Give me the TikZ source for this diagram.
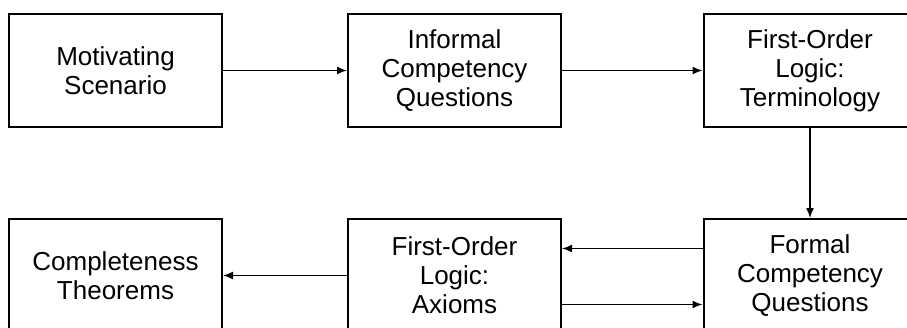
\documentclass[tikz,border=0pt]{standalone}
\usepackage{fontspec}
\setmainfont{Liberation Sans}
\usetikzlibrary{arrows.meta}

\begin{document}
\begin{tikzpicture}[x = 1pt, y = 1pt,
		stage/.style = {draw, line width = 2pt, minimum width = 213pt, minimum height = 113pt,
			inner sep = 0pt, align = center, font = \fontsize{26}{29}\selectfont},
		flow/.style = {-{Latex[length = 10pt, width = 8pt]}, line width = 1.5pt}]
		\clip (0,0) rectangle (907,-327);
		\node (mot) at (115.5,-70.5) [stage] {Motivating\\Scenario};
		\node (icq) at (454.5,-70.5) [stage] {Informal\\Competency\\Questions};
		\node (term) at (810,-70.5) [stage] {First-Order\\Logic:\\Terminology};
		\node (compl) at (115.5,-275.5) [stage] {Completeness\\Theorems};
		\node (axio) at (454.5,-275.5) [stage] {First-Order\\Logic:\\Axioms};
		\node (fcq) at (810,-275.5) [stage] {Formal\\Competency\\Questions};
		\draw [flow] (mot) -- (icq);
		\draw [flow] (icq) -- (term);
		\draw [flow] (term) -- (fcq);
		\draw [flow] ([yshift = 27pt]fcq.west) -- ([yshift = 27pt]axio.east);
		\draw [flow] ([yshift = -29pt]axio.east) -- ([yshift = -29pt]fcq.west);
		\draw [flow] (axio) -- (compl);
	\end{tikzpicture}
\end{document}
